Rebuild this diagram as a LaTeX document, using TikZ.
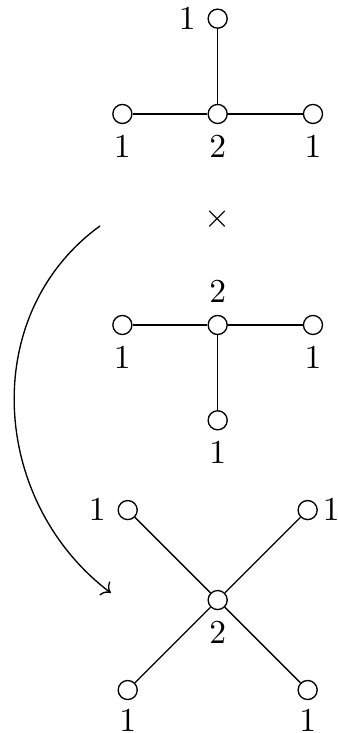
\documentclass[tikz,border=0pt]{standalone}
\usepackage{amsmath}
\usetikzlibrary{arrows.meta, positioning}

\begin{document}
\begin{tikzpicture}[
        node distance=1cm, on grid,
        vert/.style={circle, draw, minimum size=2mm, inner sep=0pt},
        link/.style={thin},
        label distance=0pt
    ]
        \useasboundingbox (-2.284,-4.281) rectangle (1.262,3.41);
        % first factor
        \node[vert, label=below:$2$] (a0) at (0,2.214) {};
        \node[vert, label=below:$1$, left=of a0] (a1) {};
        \node[vert, label=below:$1$, right=of a0] (a2) {};
        \node[vert, label=left:$1$, above=of a0] (a3) {};
        \draw[link] (a1) -- (a0) -- (a2);
        \draw[link] (a0) -- (a3);
        \node (times) at (0,1.11) {$\times$};
        % second factor
        \node[vert, label=above:$2$] (b0) at (0,0) {};
        \node[vert, label=below:$1$, left=of b0] (b1) {};
        \node[vert, label=below:$1$, right=of b0] (b2) {};
        \node[vert, label=below:$1$, below=of b0] (b3) {};
        \draw[link] (b1) -- (b0) -- (b2);
        \draw[link] (b0) -- (b3);
        % product
        \node[vert, label=below:$2$] (c0) at (0,-2.886) {};
        \node[vert, label=left:$1$, above left=0.944cm and 0.944cm of c0] (c1) {};
        \node[vert, label={[label distance=-2pt]right:$1$}, above right=0.944cm and 0.944cm of c0] (c2) {};
        \node[vert, label={[label distance=-0.5pt]below:$1$}, below left=0.944cm and 0.944cm of c0] (c3) {};
        \node[vert, label={[label distance=-0.5pt]below:$1$}, below right=0.944cm and 0.944cm of c0] (c4) {};
        \draw[link] (c1) -- (c0) -- (c4);
        \draw[link] (c2) -- (c0) -- (c3);
        \coordinate (from) at (-1.235,1.039);
        \coordinate (to) at (-1.12,-2.812);
        \draw[->] (from) to[out=216, in=143, looseness=1.05] (to);
    \end{tikzpicture}
\end{document}
